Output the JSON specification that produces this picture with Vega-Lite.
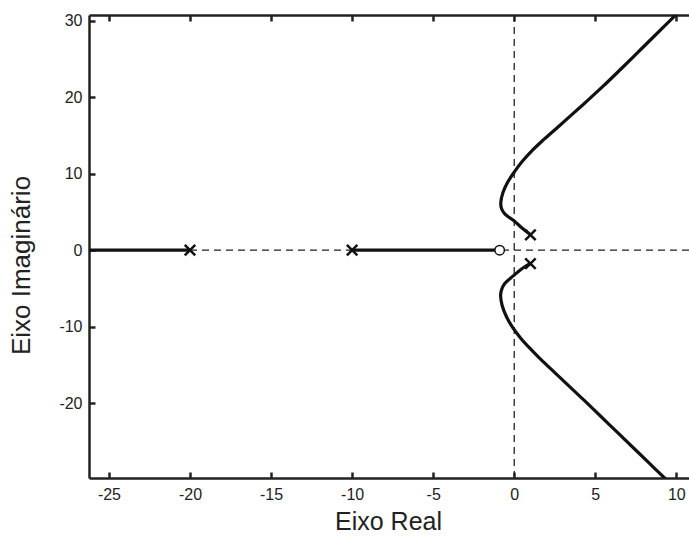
{
  "$schema": "https://vega.github.io/schema/vega-lite/v6.json",
  "width": 600,
  "height": 463,
  "autosize": {"type": "none"},
  "padding": {"left": 89, "top": 15, "right": 0, "bottom": 67},
  "background": "white",
  "datasets": {
    "locus": [
      {"branch": "r1", "i": 0, "x": -27, "y": 0},
      {"branch": "r1", "i": 1, "x": -20, "y": 0},
      {"branch": "r2", "i": 0, "x": -10, "y": 0},
      {"branch": "r2", "i": 1, "x": -0.9, "y": 0},
      {"branch": "c1", "i": 0, "x": 1.0, "y": 2.0},
      {"branch": "c1", "i": 1, "x": 0.5, "y": 2.85},
      {"branch": "c1", "i": 2, "x": 0.0, "y": 3.8},
      {"branch": "c1", "i": 3, "x": -0.57, "y": 4.7},
      {"branch": "c1", "i": 4, "x": -0.78, "y": 5.4},
      {"branch": "c1", "i": 5, "x": -0.83, "y": 6.2},
      {"branch": "c1", "i": 6, "x": -0.7, "y": 7.5},
      {"branch": "c1", "i": 7, "x": -0.4, "y": 8.9},
      {"branch": "c1", "i": 8, "x": 0.0, "y": 10.2},
      {"branch": "c1", "i": 9, "x": 0.5, "y": 11.6},
      {"branch": "c1", "i": 10, "x": 1.1, "y": 13.0},
      {"branch": "c1", "i": 11, "x": 1.8, "y": 14.4},
      {"branch": "c1", "i": 12, "x": 2.6, "y": 15.9},
      {"branch": "c1", "i": 13, "x": 3.5, "y": 17.6},
      {"branch": "c1", "i": 14, "x": 4.5, "y": 19.5},
      {"branch": "c1", "i": 15, "x": 5.5, "y": 21.45},
      {"branch": "c1", "i": 16, "x": 6.55, "y": 23.6},
      {"branch": "c1", "i": 17, "x": 7.7, "y": 26.0},
      {"branch": "c1", "i": 18, "x": 8.85, "y": 28.4},
      {"branch": "c1", "i": 19, "x": 10.0, "y": 30.8},
      {"branch": "c1", "i": 20, "x": 10.6, "y": 32.05},
      {"branch": "c2", "i": 0, "x": 1.0, "y": -1.75},
      {"branch": "c2", "i": 1, "x": 0.56, "y": -2.3},
      {"branch": "c2", "i": 2, "x": -0.06, "y": -3.36},
      {"branch": "c2", "i": 3, "x": -0.6, "y": -4.4},
      {"branch": "c2", "i": 4, "x": -0.8, "y": -5.3},
      {"branch": "c2", "i": 5, "x": -0.84, "y": -6.0},
      {"branch": "c2", "i": 6, "x": -0.75, "y": -7.2},
      {"branch": "c2", "i": 7, "x": -0.5, "y": -8.6},
      {"branch": "c2", "i": 8, "x": -0.1, "y": -10.1},
      {"branch": "c2", "i": 9, "x": 0.4, "y": -11.5},
      {"branch": "c2", "i": 10, "x": 1.0, "y": -12.9},
      {"branch": "c2", "i": 11, "x": 1.7, "y": -14.4},
      {"branch": "c2", "i": 12, "x": 2.5, "y": -16.0},
      {"branch": "c2", "i": 13, "x": 3.4, "y": -17.8},
      {"branch": "c2", "i": 14, "x": 4.4, "y": -19.8},
      {"branch": "c2", "i": 15, "x": 5.38, "y": -21.8},
      {"branch": "c2", "i": 16, "x": 6.38, "y": -23.85},
      {"branch": "c2", "i": 17, "x": 7.36, "y": -25.85},
      {"branch": "c2", "i": 18, "x": 8.31, "y": -27.8},
      {"branch": "c2", "i": 19, "x": 9.24, "y": -29.7},
      {"branch": "c2", "i": 20, "x": 9.68, "y": -30.6}
    ],
    "poles": [
      {"x": -20, "y": 0},
      {"x": -10, "y": 0},
      {"x": 1, "y": 2},
      {"x": 1, "y": -1.75}
    ],
    "zeros": [
      {"x": -0.9, "y": 0}
    ]
  },
  "layer": [
    {
      "data": {"values": [{}]},
      "mark": {"type": "rule", "strokeDash": [7, 5], "strokeWidth": 1.3, "color": "#222"},
      "encoding": {
        "y": {
          "datum": 0, "type": "quantitative",
          "scale": {"domain": [-29.77, 30.72], "nice": false, "zero": false},
          "axis": {
            "values": [-20, -10, 0, 10, 20, 30],
            "labelExpr": "'' + datum.value",
            "labelPadding": 13,
            "labelBaseline": "middle",
            "title": "Eixo Imaginário",
            "titleFontSize": 26,
            "titleX": -68,
            "titleY": 250,
            "titleAngle": -90,
            "titleBaseline": "middle",
            "titleAlign": "center"
          }
        }
      }
    },
    {
      "data": {"values": [{}]},
      "mark": {"type": "rule", "strokeDash": [7, 5], "strokeWidth": 1.3, "color": "#222"},
      "encoding": {
        "x": {
          "datum": 0, "type": "quantitative",
          "scale": {"domain": [-26.23, 10.78], "nice": false, "zero": false},
          "axis": {
            "orient": "bottom",
            "values": [-25, -20, -15, -10, -5, 0, 5, 10],
            "labelExpr": "'' + datum.value",
            "labelFlush": false,
            "labelPadding": 22,
            "labelBaseline": "middle",
            "title": "Eixo Real",
            "titleFontSize": 25,
            "titleX": 299,
            "titleY": 43,
            "titleBaseline": "middle",
            "titleAlign": "center"
          }
        }
      }
    },
    {
      "data": {"name": "locus"},
      "mark": {"type": "line", "strokeWidth": 3.2, "color": "#111", "interpolate": "catmull-rom", "clip": true},
      "encoding": {
        "x": {
          "field": "x", "type": "quantitative",
          "scale": {"domain": [-26.23, 10.78], "nice": false, "zero": false},
          "axis": {
            "orient": "top",
            "values": [-25, -20, -15, -10, -5, 0, 5, 10],
            "labels": false,
            "title": null
          }
        },
        "y": {"field": "y", "type": "quantitative"},
        "detail": {"field": "branch"},
        "order": {"field": "i"}
      }
    },
    {
      "data": {"name": "poles"},
      "mark": {"type": "point", "shape": "M-1,-1L1,1M-1,1L1,-1", "size": 110, "strokeWidth": 2.5, "color": "#111", "filled": false, "opacity": 1},
      "encoding": {
        "x": {"field": "x", "type": "quantitative", "axis": null},
        "y": {"field": "y", "type": "quantitative"}
      }
    },
    {
      "data": {"name": "zeros"},
      "mark": {"type": "point", "shape": "circle", "size": 90, "fill": "white", "stroke": "#111", "strokeWidth": 1.5, "filled": true, "opacity": 1},
      "encoding": {
        "x": {"field": "x", "type": "quantitative", "axis": null},
        "y": {"field": "y", "type": "quantitative"}
      }
    }
  ],
  "resolve": {"axis": {"x": "independent"}},
  "config": {
    "view": {"stroke": null},
    "axis": {
      "grid": false,
      "domainColor": "#222",
      "domainWidth": 2.5,
      "tickColor": "#222",
      "tickWidth": 2.5,
      "tickSize": -6,
      "labelFont": "Liberation Sans",
      "labelFontSize": 16,
      "labelColor": "#222",
      "titleFont": "Liberation Sans",
      "titleFontWeight": "normal",
      "titleColor": "#222"
    }
  }
}
